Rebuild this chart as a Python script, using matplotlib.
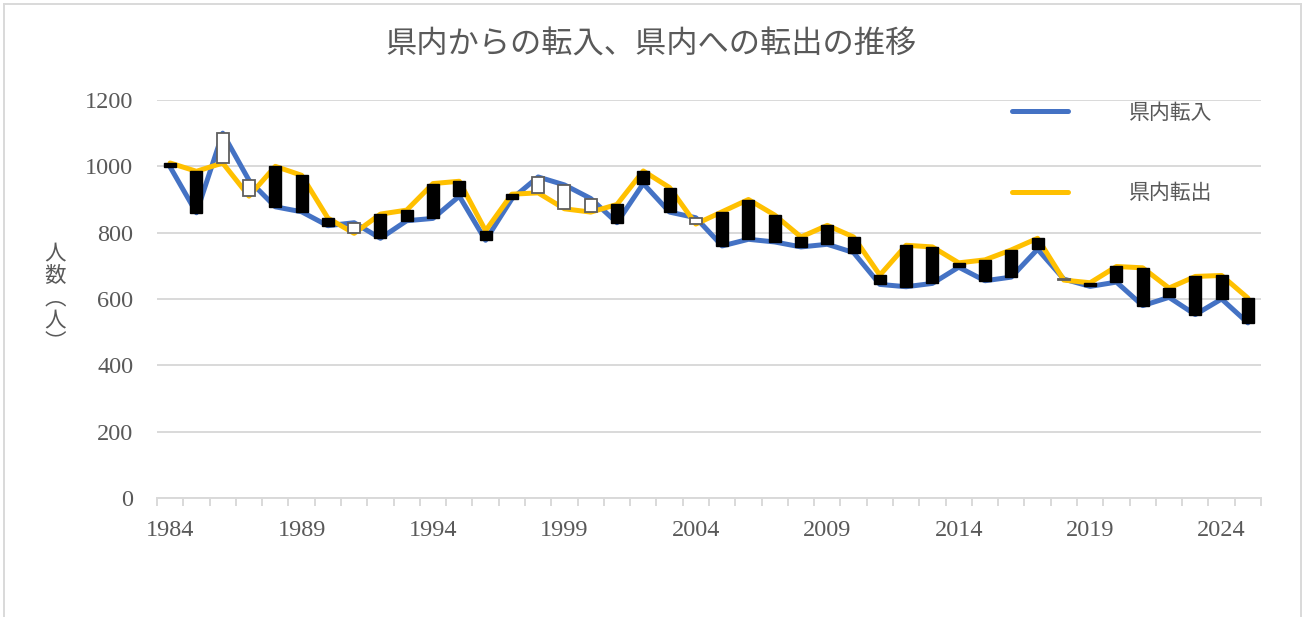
import matplotlib
matplotlib.use("Agg")
import matplotlib.pyplot as plt
from matplotlib.lines import Line2D

plt.rcParams['font.family'] = ['Noto Sans CJK JP', 'DejaVu Sans']

years = list(range(1984, 2026))
tennyu = [998, 860, 1100, 958, 878, 863, 821, 830, 783, 836,
          843, 910, 777, 902, 968, 944, 903, 830, 948, 862,
          845, 760, 780, 772, 757, 765, 740, 644, 637, 647,
          696, 655, 666, 750, 660, 638, 651, 580, 605, 553,
          600, 528]
tenshutsu = [1010, 985, 1010, 910, 1000, 973, 844, 798, 856, 868,
             948, 955, 806, 916, 920, 872, 862, 885, 986, 936,
             826, 863, 900, 853, 787, 822, 787, 672, 762, 757,
             709, 718, 748, 783, 657, 649, 698, 694, 633, 668,
             671, 603]
yticks = [0, 200, 400, 600, 800, 1000, 1200]

GRID = "#d9d9d9"
TEXT = "#595959"
BLUE = "#4472C4"
YELLOW = "#FFC000"

W, H = 1303, 617
fig = plt.figure(figsize=(W / 100, H / 100), dpi=100)
ax = fig.add_axes([157 / W, 1 - 498 / H, (1261 - 157) / W, (498 - 100) / H])

x = list(range(len(years)))
ax.plot(x, tennyu, color=BLUE, lw=3.6, solid_capstyle="round",
        solid_joinstyle="round", label="県内転入", zorder=3)
ax.plot(x, tenshutsu, color=YELLOW, lw=3.6, solid_capstyle="round",
        solid_joinstyle="round", label="県内転出", zorder=4)

# up-down bars
for i, (a, b) in enumerate(zip(tennyu, tenshutsu)):
    lo, hi = min(a, b), max(a, b)
    h = max(hi - lo, 1.5)
    if a > b:
        ax.bar(i, h, bottom=lo, width=0.46, facecolor="white",
               edgecolor="#5f5f5f", linewidth=1.3, zorder=5)
    else:
        ax.bar(i, h, bottom=lo, width=0.46, facecolor="black",
               edgecolor="black", linewidth=1.0, zorder=5)

ax.set_xlim(-0.5, len(years) - 0.5)
ax.set_ylim(0, 1200)
ax.set_yticks(yticks)
ax.set_yticklabels([str(v) for v in yticks], family="Liberation Serif",
                   fontsize=17.5, color=TEXT)
ax.tick_params(axis="y", length=0, pad=17)
ax.grid(axis="y", color=GRID, lw=1.4)
ax.set_axisbelow(True)

ax.set_xticks(x[::5])
ax.set_xticklabels([str(years[i]) for i in x[::5]], family="Liberation Serif",
                   fontsize=17.5, color=TEXT)
ax.set_xticks([i - 0.5 for i in range(len(years) + 1)], minor=True)
ax.tick_params(axis="x", which="major", length=0, pad=16)
ax.tick_params(axis="x", which="minor", length=6, width=1.4, color=GRID)

for s in ["top", "right", "left"]:
    ax.spines[s].set_visible(False)
ax.spines["bottom"].set_color(GRID)
ax.spines["bottom"].set_linewidth(1.4)

ax.legend(loc="center left", bbox_to_anchor=(0.7745, 0.867), frameon=False,
          fontsize=15, labelcolor=TEXT, handlelength=2.7, borderpad=0,
          borderaxespad=0, handletextpad=2.9, labelspacing=2.8)

fig.text(0.5, 1 - 45 / H, "県内からの転入、県内への転出の推移",
         ha="center", va="center", fontsize=22.5, color=TEXT)
fig.text(55 / W, 1 - 298 / H, "人\n数\n︵\n人\n︶", ha="center", va="center",
         fontsize=15.5, color=TEXT, linespacing=1.02)

# chart area border
for xs, ys in [([4, 4], [0, H - 4]), ([4, W - 2], [H - 4, H - 4]),
               ([W - 2, W - 2], [0, H - 4])]:
    fig.add_artist(Line2D([v / W for v in xs], [v / H for v in ys],
                          color=GRID, lw=1.4, transform=fig.transFigure))

fig.savefig("out.png", dpi=100)
